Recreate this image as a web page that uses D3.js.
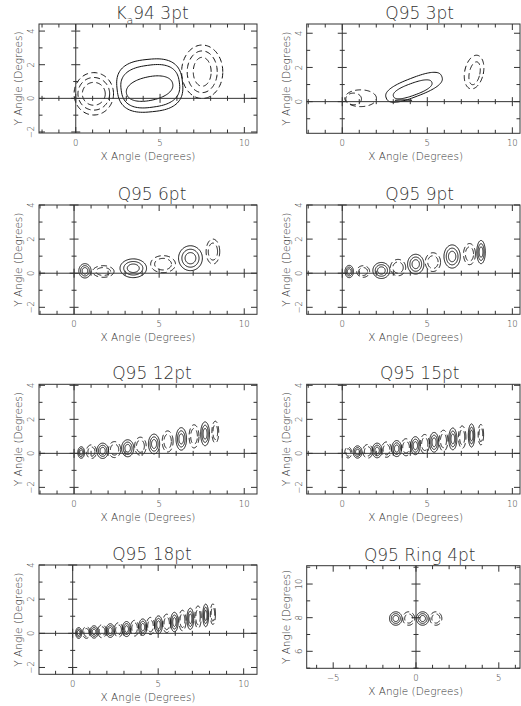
<!doctype html>
<html lang="en">
<head>
<meta charset="utf-8" />
<title>Beam contour panels</title>
<script src="https://cdn.jsdelivr.net/npm/d3@7"></script>
<style>
 body { margin: 0; background: #fff; }
 svg { display: block; font-family: "DejaVu Sans", sans-serif; font-weight: 200; }
 .frame, .zero { fill: none; stroke: #333; stroke-width: 1; }
 .tick { stroke: #333; stroke-width: 1; }
 .pos { fill: none; stroke: #111; stroke-width: 1; }
 .neg { fill: none; stroke: #111; stroke-width: 1; stroke-dasharray: 6 3.5; }
 text { fill: #333; }
</style>
</head>
<body>
<div id="chart"></div>
<script>
// every lobe: x, y, rx, ry (degrees), sign (+1 solid, -1 dashed), tilt (deg), squareness
const ka94_3pt = [
  [4.39, 0.76, 1.95, 1.56, 1, 6, 2.7],
  [4.42, 0.72, 1.74, 1.25, 1, 8, 2.6],
  [4.38, 0.58, 1.40, 0.70, 1, 12, 2.2],
  [1.07, 0.27, 1.17, 1.26, -1],
  [1.07, 0.27, 0.94, 0.97, -1],
  [1.07, 0.27, 0.68, 0.68, -1],
  [7.50, 1.58, 1.22, 1.59, -1],
  [7.50, 1.58, 0.89, 1.24, -1],
  [7.50, 1.58, 0.53, 0.86, -1]
];
const q95_3pt = [
  [4.22, 0.84, 1.75, 0.55, 1, 21, 2.6],
  [4.14, 0.72, 1.20, 0.35, 1, 20, 2.4],
  [3.60, 0.07, 0.50, 0.04, 1],
  [1.08, 0.20, 0.93, 0.49, -1],
  [0.67, 0.16, 0.46, 0.34, -1],
  [7.75, 1.73, 0.55, 1.00, -1, -12],
  [7.78, 1.66, 0.31, 0.68, -1, -12]
];
const q95_6pt = [
  [0.64, 0.14, 0.36, 0.42, 1],
  [1.72, 0.10, 0.63, 0.34, -1],
  [3.48, 0.29, 0.78, 0.55, 1],
  [5.23, 0.53, 0.73, 0.50, -1],
  [6.84, 0.88, 0.70, 0.73, 1],
  [8.16, 1.27, 0.40, 0.73, -1]
];
const q95_9pt = [
  [0.41, 0.10, 0.25, 0.36, 1],
  [1.23, 0.10, 0.38, 0.34, -1],
  [2.30, 0.16, 0.50, 0.47, 1],
  [3.28, 0.33, 0.45, 0.48, -1],
  [4.32, 0.53, 0.48, 0.58, 1],
  [5.33, 0.65, 0.45, 0.55, -1],
  [6.46, 0.98, 0.48, 0.68, 1],
  [7.48, 1.12, 0.35, 0.62, -1],
  [8.16, 1.24, 0.25, 0.68, 1]
];
const q95_12pt = [
  [0.42, 0.05, 0.20, 0.34, 1],
  [1.02, 0.10, 0.30, 0.40, -1],
  [1.68, 0.15, 0.34, 0.45, 1],
  [2.38, 0.22, 0.36, 0.47, -1],
  [3.15, 0.30, 0.36, 0.50, 1],
  [3.90, 0.42, 0.34, 0.53, -1],
  [4.70, 0.55, 0.33, 0.58, 1],
  [5.50, 0.70, 0.32, 0.62, -1],
  [6.30, 0.85, 0.31, 0.66, 1],
  [7.05, 1.00, 0.29, 0.68, -1],
  [7.70, 1.15, 0.26, 0.70, 1],
  [8.30, 1.25, 0.20, 0.64, -1]
];
const q95_15pt = [
  [0.35, 0.05, 0.20, 0.32, -1],
  [0.90, 0.08, 0.26, 0.36, 1],
  [1.50, 0.12, 0.29, 0.40, -1],
  [2.05, 0.17, 0.29, 0.43, 1],
  [2.60, 0.22, 0.29, 0.45, -1],
  [3.20, 0.28, 0.29, 0.47, 1],
  [3.75, 0.36, 0.29, 0.50, -1],
  [4.30, 0.45, 0.28, 0.53, 1],
  [4.85, 0.55, 0.27, 0.56, -1],
  [5.40, 0.65, 0.27, 0.58, 1],
  [5.95, 0.75, 0.26, 0.61, -1],
  [6.50, 0.85, 0.24, 0.64, 1],
  [7.05, 0.95, 0.22, 0.66, -1],
  [7.60, 1.05, 0.19, 0.68, 1],
  [8.15, 1.10, 0.16, 0.60, -1]
];
const q95_18pt = [
  [0.35, 0.02, 0.18, 0.32, 1],
  [0.80, 0.05, 0.22, 0.34, -1],
  [1.25, 0.08, 0.24, 0.36, 1],
  [1.72, 0.12, 0.25, 0.38, -1],
  [2.20, 0.16, 0.25, 0.40, 1],
  [2.68, 0.20, 0.25, 0.42, -1],
  [3.15, 0.25, 0.25, 0.44, 1],
  [3.62, 0.30, 0.24, 0.46, -1],
  [4.10, 0.36, 0.24, 0.48, 1],
  [4.55, 0.43, 0.24, 0.50, -1],
  [5.02, 0.50, 0.23, 0.52, 1],
  [5.50, 0.58, 0.23, 0.54, -1],
  [5.95, 0.66, 0.22, 0.57, 1],
  [6.42, 0.75, 0.21, 0.60, -1],
  [6.88, 0.85, 0.20, 0.62, 1],
  [7.33, 0.95, 0.19, 0.65, -1],
  [7.78, 1.05, 0.17, 0.66, 1],
  [8.20, 1.12, 0.15, 0.60, -1]
];
const q95_ring_4pt = [
  [-1.22, 7.95, 0.38, 0.40, 1],
  [-0.44, 7.95, 0.36, 0.40, -1],
  [0.40, 7.95, 0.38, 0.40, 1],
  [1.20, 7.95, 0.36, 0.40, -1]
];

// nested contour levels, as fractions of the outer contour size
const singleLevel = [1];
const posLevels = [1, 0.72, 0.45];
const negLevels = [1, 0.68];

const titles = ["K_a94 3pt", "Q95 3pt", "Q95 6pt", "Q95 9pt", "Q95 12pt", "Q95 15pt", "Q95 18pt", "Q95 Ring 4pt"];
const xDomains = [[-2.18, 10.75], [-2.09, 10.45], [-2.06, 10.75], [-2.09, 10.45],
                  [-2.06, 10.75], [-2.09, 10.45], [-1.97, 10.78], [-6.6, 6.28]];
const yDomains = [[-2.06, 4.42], [-1.85, 4.54], [-2.41, 4.0], [-2.41, 4.0],
                  [-2.39, 4.06], [-2.39, 4.06], [-2.4, 4.0], [4.99, 11.09]];
const lobeSets = [ka94_3pt, q95_3pt, q95_6pt, q95_9pt, q95_12pt, q95_15pt, q95_18pt, q95_ring_4pt];

// pixel frames: left, right, top, bottom
const frames = [
  [39, 257, 24, 133], [306.7, 520, 24, 133.3],
  [39, 257, 205, 314.3], [306.7, 520, 205, 314.3],
  [39, 257, 384.3, 494], [306.7, 520, 384.3, 494],
  [39, 257, 565, 674.3], [306.7, 520, 565.7, 668.3]
];

const W = 521, H = 706;
const svg = d3.select("#chart").append("svg").attr("width", W).attr("height", H);

function lobePath(l, s, x, y) {
  const [cx, cy, rx, ry, , tilt = 0, n = 2] = l;
  const th = tilt * Math.PI / 180;
  const pts = d3.range(96).map(i => {
    const t = i / 96 * 2 * Math.PI;
    const c = Math.cos(t), sn = Math.sin(t);
    const u = rx * s * Math.sign(c) * Math.pow(Math.abs(c), 2 / n);
    const v = ry * s * Math.sign(sn) * Math.pow(Math.abs(sn), 2 / n);
    return [x(cx + u * Math.cos(th) - v * Math.sin(th)), y(cy + u * Math.sin(th) + v * Math.cos(th))];
  });
  return d3.line().curve(d3.curveLinearClosed)(pts);
}

titles.forEach((title, i) => {
  const [left, right, top, bottom] = frames[i];
  const x = d3.scaleLinear().domain(xDomains[i]).range([left, right]);
  const y = d3.scaleLinear().domain(yDomains[i]).range([bottom, top]);
  const g = svg.append("g");

  g.append("clipPath").attr("id", "clip" + i)
    .append("rect").attr("x", left).attr("y", top)
    .attr("width", right - left).attr("height", bottom - top);

  // contours
  const levels = i < 2 ? singleLevel : null;
  const cg = g.append("g").attr("clip-path", `url(#clip${i})`);
  lobeSets[i].forEach(l => {
    const lv = levels || (l[4] > 0 ? posLevels : negLevels);
    lv.forEach(s => {
      cg.append("path")
        .attr("class", l[4] > 0 ? "pos" : "neg")
        .attr("d", lobePath(l, s, x, y));
    });
  });

  // frame
  g.append("rect").attr("class", "frame")
    .attr("x", left).attr("y", top)
    .attr("width", right - left).attr("height", bottom - top);

  const [x0, x1] = xDomains[i], [y0, y1] = yDomains[i];
  const xt = d3.range(Math.ceil(x0), Math.floor(x1) + 1);
  const yt = d3.range(Math.ceil(y0), Math.floor(y1) + 1);
  const hasX0 = x0 < 0 && x1 > 0, hasY0 = y0 < 0 && y1 > 0;

  if (hasX0) g.append("line").attr("class", "zero")
    .attr("x1", x(0)).attr("x2", x(0)).attr("y1", top).attr("y2", bottom);
  if (hasY0) g.append("line").attr("class", "zero")
    .attr("x1", left).attr("x2", right).attr("y1", y(0)).attr("y2", y(0));

  xt.forEach(v => {
    const major = v % 5 === 0;
    const len = major ? 6 : 3.5, half = major ? 4.5 : 2.5;
    g.append("line").attr("class", "tick")
      .attr("x1", x(v)).attr("x2", x(v)).attr("y1", bottom).attr("y2", bottom - len);
    g.append("line").attr("class", "tick")
      .attr("x1", x(v)).attr("x2", x(v)).attr("y1", top).attr("y2", top + len);
    if (hasY0) g.append("line").attr("class", "tick")
      .attr("x1", x(v)).attr("x2", x(v)).attr("y1", y(0) - half).attr("y2", y(0) + half);
    if (major) g.append("text")
      .attr("x", x(v)).attr("y", bottom + 12.5)
      .attr("text-anchor", "middle").attr("font-size", 8.5)
      .text(v < 0 ? "\u2212" + Math.abs(v) : v);
  });

  yt.forEach(v => {
    const major = v % 2 === 0;
    const len = major ? 6 : 3.5, half = major ? 4.5 : 2.5;
    g.append("line").attr("class", "tick")
      .attr("x1", left).attr("x2", left + len).attr("y1", y(v)).attr("y2", y(v));
    g.append("line").attr("class", "tick")
      .attr("x1", right).attr("x2", right - len).attr("y1", y(v)).attr("y2", y(v));
    if (hasX0) g.append("line").attr("class", "tick")
      .attr("x1", x(0) - half).attr("x2", x(0) + half).attr("y1", y(v)).attr("y2", y(v));
    if (major) g.append("text")
      .attr("transform", `translate(${left - 7.5},${y(v)}) rotate(-90)`)
      .attr("dy", "0.35em")
      .attr("text-anchor", "middle").attr("font-size", 8.5)
      .text(v < 0 ? "\u2212" + Math.abs(v) : v);
  });

  // axis titles
  g.append("text")
    .attr("x", (left + 218 / 2)).attr("y", bottom + 26.5)
    .attr("text-anchor", "middle").attr("font-size", 10.5)
    .text("X Angle (Degrees)");
  g.append("text")
    .attr("transform", `translate(${left - 20.5},${(top + bottom) / 2}) rotate(-90)`)
    .attr("dy", "0.35em")
    .attr("text-anchor", "middle").attr("font-size", 10.5)
    .text("Y Angle (Degrees)");

  // panel title, "_a" is a subscript
  const t = g.append("text")
    .attr("x", left + 218 / 2 + 4).attr("y", top - 5)
    .attr("text-anchor", "middle").attr("font-size", 17);
  const parts = title.split("_");
  if (parts.length > 1) {
    t.append("tspan").text(parts[0]);
    t.append("tspan").attr("font-size", 11).attr("dy", 5).text(parts[1][0]);
    t.append("tspan").attr("dy", -5).text(parts[1].slice(1));
  } else {
    t.text(title);
  }
});
</script>
</body>
</html>
